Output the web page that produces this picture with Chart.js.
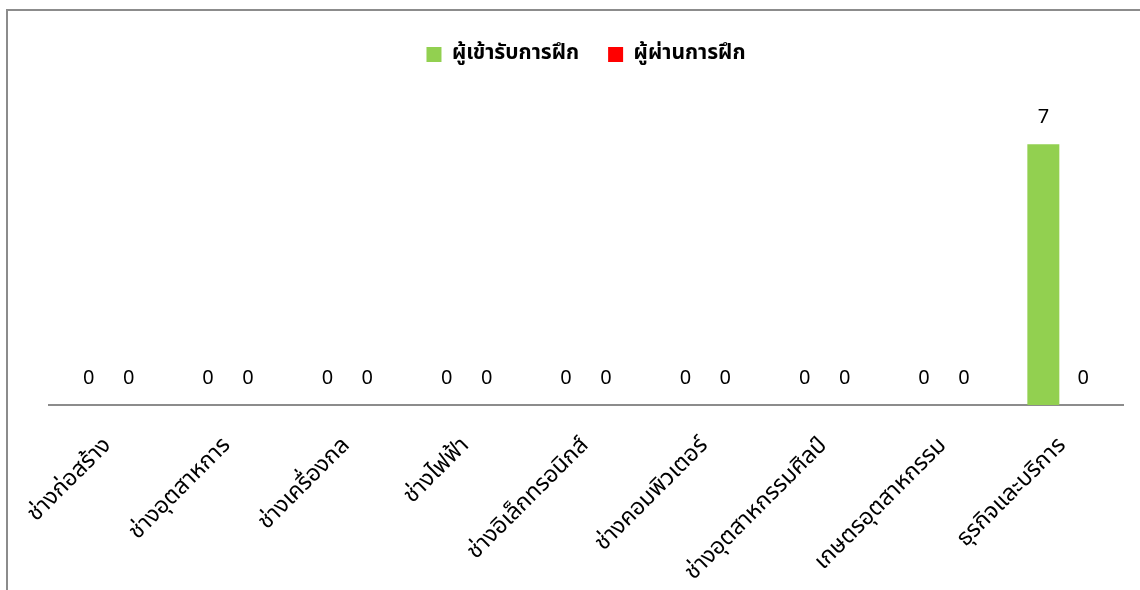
<!DOCTYPE html>
<html>
<head>
<meta charset="utf-8">
<script src="https://cdn.jsdelivr.net/npm/chart.js@4.4.0/dist/chart.umd.min.js"></script>
<style>
    html, body { margin: 0; padding: 0; background: #fff; overflow: hidden; }
    #wrap { position: relative; width: 1140px; height: 590px; }
    #frame {
        position: absolute; left: 6px; top: 9px; width: 1200px; height: 700px;
        border-top: 2px solid #8c8c8c; border-left: 2px solid #8c8c8c;
        pointer-events: none;
    }
</style>
</head>
<body>
<div id="wrap">
    <canvas id="chart" width="1140" height="590"></canvas>
    <div id="frame"></div>
</div>
<script>
"use strict";

// categories (Thai training branches)
var categories = [
    "ช่างก่อสร้าง",
    "ช่างอุตสาหการ",
    "ช่างเครื่องกล",
    "ช่างไฟฟ้า",
    "ช่างอิเล็กทรอนิกส์",
    "ช่างคอมพิวเตอร์",
    "ช่างอุตสาหกรรมศิลป์",
    "เกษตรอุตสาหกรรม",
    "ธุรกิจและบริการ"
];
var seriesNames = ["ผู้เข้ารับการฝึก", "ผู้ผ่านการฝึก"];
var trainees = [0, 0, 0, 0, 0, 0, 0, 0, 7];
var passed = [0, 0, 0, 0, 0, 0, 0, 0, 0];

var thaiFont = "Tahoma, 'Noto Sans Thai', 'Noto Sans', 'DejaVu Sans', sans-serif";

/**
* Draws the value above each bar (no datalabels plugin available offline).
*/
var valueLabels = {
    id: "valueLabels",
    afterDatasetsDraw: function (chart) {
        var ctx = chart.ctx;
        ctx.save();
        ctx.font = "20px " + thaiFont;
        ctx.fillStyle = "#000";
        ctx.textAlign = "center";
        ctx.textBaseline = "middle";
        chart.data.datasets.forEach(function (ds, i) {
            chart.getDatasetMeta(i).data.forEach(function (bar, j) {
                ctx.fillText(String(ds.data[j]), bar.x, bar.y - 25);
            });
        });
        ctx.restore();
    }
};

/**
* Adds some room between the legend and the plot area.
*/
var legendMargin = {
    id: "legendMargin",
    beforeInit: function (chart) {
        var fit = chart.legend.fit;
        chart.legend.fit = function () {
            fit.bind(chart.legend)();
            this.height += 32;
        };
    }
};

var config = {
    type: "bar",
    data: {
        labels: categories,
        datasets: [{
            label: seriesNames[0],
            data: trainees,
            backgroundColor: "#92d050"
        }, {
            label: seriesNames[1],
            data: passed,
            backgroundColor: "#ff0000"
        }]
    },
    plugins: [valueLabels, legendMargin],
    options: {
        responsive: false,
        animation: false,
        categoryPercentage: 0.67,
        barPercentage: 0.8,
        layout: {
            padding: { left: 49, right: 17, top: 15, bottom: -17 }
        },
        scales: {
            x: {
                grid: { display: false },
                border: { display: true, color: "#8c8c8c", width: 2 },
                ticks: {
                    color: "#000",
                    font: { family: thaiFont, size: 23 },
                    maxRotation: 45,
                    minRotation: 45,
                    padding: 20
                }
            },
            y: {
                display: false,
                min: 0,
                max: 8
            }
        },
        plugins: {
            tooltip: { enabled: false },
            legend: {
                position: "top",
                labels: {
                    color: "#000",
                    boxWidth: 15,
                    boxHeight: 15,
                    padding: 29,
                    font: { family: thaiFont, size: 21, weight: "bold" }
                }
            }
        }
    }
};

new Chart(document.getElementById("chart"), config);
</script>
</body>
</html>
